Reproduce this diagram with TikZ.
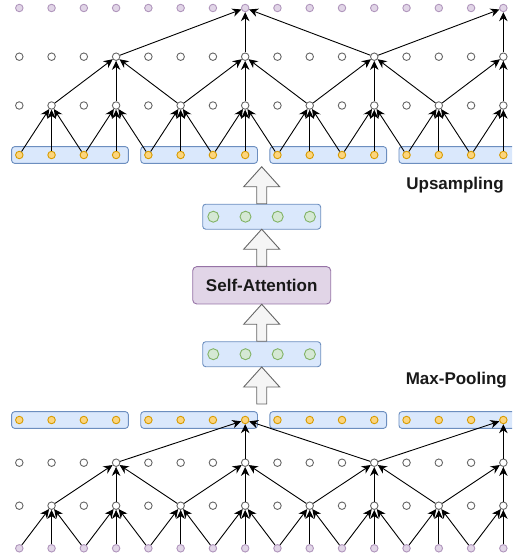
\documentclass[tikz,border=0pt]{standalone}
\usepackage{fontspec}
\setmainfont{Liberation Sans}
\usetikzlibrary{arrows.meta,calc}
\definecolor{boxfill}{HTML}{DAE8FC}
\definecolor{boxline}{HTML}{6C8EBF}
\definecolor{lilacfill}{HTML}{E1D5E7}
\definecolor{lilacline}{HTML}{9673A6}
\definecolor{amberfill}{HTML}{FCD57E}
\definecolor{amberline}{HTML}{D79B00}
\definecolor{mintfill}{HTML}{D5E8D4}
\definecolor{mintline}{HTML}{82B366}
\definecolor{greyfill}{HTML}{F5F5F5}
\definecolor{greyline}{HTML}{666666}
\tikzstyle{dot}=[circle,draw,line width=0.9pt,minimum size=7.5pt,inner sep=0pt]
\tikzstyle{in-dot}=[dot,draw=lilacline!75,fill=lilacfill]
\tikzstyle{hid-dot}=[dot,draw=greyline,fill=white]
\tikzstyle{out-dot}=[dot,draw=amberline,fill=amberfill]
\tikzstyle{feat-dot}=[dot,draw=mintline,fill=mintfill,minimum size=11pt]
\tikzstyle{vec-box}=[draw=boxline,fill=boxfill,rounded corners=3pt,line width=0.9pt,inner sep=0pt]
\tikzstyle{edge}=[draw,line width=0.9pt,-{Stealth[length=9pt,width=8.5pt]}]
\tikzstyle{block}=[draw=greyline,fill=greyfill,line width=0.9pt,line join=miter]
\tikzstyle{stage}=[font=\bfseries\fontsize{17}{20}\selectfont,text=black!90,inner sep=0pt]
% bottom point of a hollow arrow, 37pt long
\newcommand\blockarrow[1]{%
  \draw[block] let \p1=(#1) in (\x1-5pt,\y1) -- (\x1-5pt,\y1+17pt) -- (\x1-18pt,\y1+17pt)
    -- (\x1,\y1+37pt) -- (\x1+18pt,\y1+17pt) -- (\x1+5pt,\y1+17pt) -- (\x1+5pt,\y1) -- cycle;}

\begin{document}
\begin{tikzpicture}[x=1pt,y=-1pt]
  \clip (0,0) rectangle (512,559);

  % First the blue vectors that hold the orange values
  \foreach \k in {0,...,3} {
    \node[vec-box,minimum width=116.7pt,minimum height=16.7pt] (ubox-\k) at ({70+129.1*\k},155) {};
    \node[vec-box,minimum width=116.7pt,minimum height=16.7pt] (dbox-\k) at ({70+129.1*\k},420) {};
  }

  % We draw the rows of the two trees
  \foreach \i in {0,...,15} {
    \node[in-dot] (uout-\i) at ({19.3+32.27*\i},8) {};
    \node[hid-dot] (uh2-\i) at ({19.3+32.27*\i},56.7) {};
    \node[hid-dot] (uh1-\i) at ({19.3+32.27*\i},105.5) {};
    \node[out-dot] (uin-\i) at ({19.3+32.27*\i},155) {};
    \node[out-dot] (dout-\i) at ({19.3+32.27*\i},420) {};
    \node[hid-dot] (dh2-\i) at ({19.3+32.27*\i},462.7) {};
    \node[hid-dot] (dh1-\i) at ({19.3+32.27*\i},505.7) {};
    \node[in-dot] (din-\i) at ({19.3+32.27*\i},548.3) {};
  }

  % Connect each row to the next one, the step doubles every level
  \foreach \lo/\hi/\st in {uin/uh1/1, uh1/uh2/2, uh2/uout/4, din/dh1/1, dh1/dh2/2, dh2/dout/4} {
    \pgfmathtruncatemacro\nk{8/\st-1}
    \foreach \k in {0,...,\nk} {
      \pgfmathtruncatemacro\t{2*\st*\k+2*\st-1}
      \foreach \d in {-1,0,1} {
        \pgfmathtruncatemacro\s{\t+\d*\st}
        \ifnum\s<16 \path[edge] (\lo-\s) -- (\hi-\t); \fi
      }
    }
  }

  % The middle column
  \node[vec-box,minimum width=118pt,minimum height=25pt] (feat-lo) at (261.7,354.2) {};
  \node[vec-box,minimum width=118pt,minimum height=25pt] (feat-hi) at (261.7,216.7) {};
  \foreach \j in {0,...,3} {
    \node[feat-dot] (flo-\j) at ({213.3+32.2*\j},354.2) {};
    \node[feat-dot] (fhi-\j) at ({213.3+32.2*\j},216.7) {};
  }
  \node[draw=lilacline,fill=lilacfill,rounded corners=4pt,line width=0.9pt,
        minimum width=138pt,minimum height=37.3pt,
        font=\bfseries\fontsize{17}{20}\selectfont,text=black!90] (attn) at (261.7,285.3) {Self-Attention};

  \coordinate (pool-top) at (261.7,404);
  \blockarrow{pool-top}
  \blockarrow{feat-lo.north}
  \blockarrow{attn.north}
  \blockarrow{feat-hi.north}

  \node[stage] (up-name) at (455,185) {Upsampling};
  \node[stage] (pool-name) at (456.3,380) {Max-Pooling};
\end{tikzpicture}
\end{document}
